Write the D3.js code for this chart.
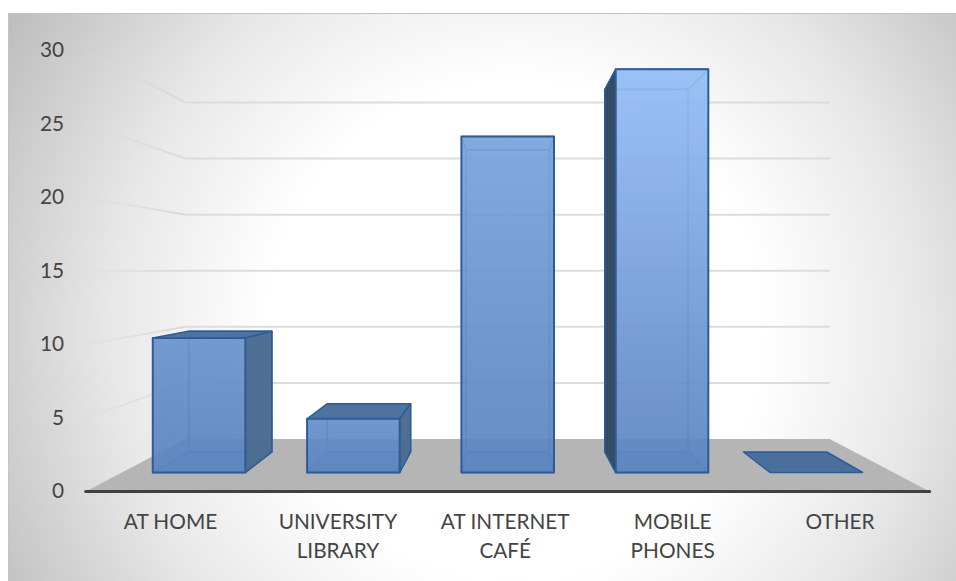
<!DOCTYPE html>
<html><head><meta charset="utf-8">
<script src="https://cdn.jsdelivr.net/npm/d3@7"></script>
<style>html,body{margin:0;padding:0;background:#fff}svg{display:block}text{font-family:Lato,"Open Sans",sans-serif;font-size:20.8px;fill:#444}</style>
</head><body><svg id="c" width="956" height="581"></svg>
<script>
const categories = ["AT HOME","UNIVERSITY LIBRARY","AT INTERNET CAFÉ","MOBILE PHONES","OTHER"];
const categoryLines = [["AT HOME"],["UNIVERSITY","LIBRARY"],["AT INTERNET","CAFÉ"],["MOBILE","PHONES"],["OTHER"]];
const values = [10,4,25,30,0];
const yTicks = [0,5,10,15,20,25,30];

const svg = d3.select("#c");
const defs = svg.append("defs");

// Perspective set-up
const vanishX = 507.7, floorFrontY = 491.5, floorBackY = 439;
const xBand = d3.scaleBand().domain(categories).range([-422,422]).paddingInner(0.4).paddingOuter(0.2);
const y = d3.scaleLinear().domain([0,30]).range([0,441]);
const shrink = d3.scaleLinear().domain([0,1]).range([1,0.763]);
const lift = d3.scaleLinear().domain([0,1]).range([0,floorFrontY-floorBackY]);
const project = (xv,v,t)=>[vanishX+xv*shrink(t), floorFrontY-lift(t)-y(v)*shrink(t)];
const tFront=0.362, tBack=0.752;

// Background
const bg = defs.append("radialGradient").attr("id","bg").attr("gradientUnits","userSpaceOnUse")
  .attr("cx",515).attr("cy",330).attr("r",590);
[[0,"#fff"],[0.42,"#fff"],[0.68,"#e8e8e8"],[1,"#bebebe"]].forEach(s=>bg.append("stop").attr("offset",s[0]).attr("stop-color",s[1]));
svg.append("rect").attr("x",8.5).attr("y",13.5).attr("width",960).attr("height",580).attr("fill","url(#bg)").attr("stroke","#c4c4c4");

// Bar front colour at the top of each bar grows with the bar's height
const topColor = d3.scaleLinear().domain([4,10,25,30]).range(["#6590c9","#6793cb","#78a3db","#93bdf5"]);
categories.forEach((c,i)=>{
  const g=defs.append("linearGradient").attr("id","bf"+i).attr("x1",0).attr("x2",0).attr("y1",0).attr("y2",1);
  g.append("stop").attr("offset",0).attr("stop-color",topColor(values[i]));
  g.append("stop").attr("offset",1).attr("stop-color","#5983bf");
});
const wf = defs.append("linearGradient").attr("id","wf").attr("gradientUnits","userSpaceOnUse").attr("x1",85).attr("x2",186).attr("y1",0).attr("y2",0);
wf.append("stop").attr("offset",0).attr("stop-color","#d9d9d9").attr("stop-opacity",0.15);
wf.append("stop").attr("offset",1).attr("stop-color","#d9d9d9").attr("stop-opacity",1);

// Floor
const poly = pts=>"M"+pts.map(p=>p.join(",")).join("L")+"Z";
const [xMin,xMax]=xBand.range();
svg.append("path").attr("d",poly([project(xMin,0,0),project(xMin,0,1),project(xMax,0,1),project(xMax,0,0)])).attr("fill","#b5b5b5");

// Gridlines
const grid = svg.append("g");
yTicks.filter(d=>d>0).forEach(d=>{
  const a=project(xMin,d,0), b=project(xMin,d,1), c=project(xMax,d,1);
  grid.append("path").attr("d",`M${a}L${b[0]},${b[1]+0.01}`).attr("fill","none").attr("stroke","url(#wf)").attr("stroke-width",2);
  grid.append("line").attr("x1",b[0]).attr("y1",b[1]).attr("x2",c[0]).attr("y2",c[1]).attr("stroke","#dcdcdc").attr("stroke-width",2);
});

// Bars
const bars = svg.append("g");
categories.forEach((c,i)=>{
  const v=values[i], x0=xBand(c), x1=x0+xBand.bandwidth();
  const P=(x,val,t)=>project(x,val,t);
  const fbl=P(x0,0,tFront),fbr=P(x1,0,tFront),ftl=P(x0,v,tFront),ftr=P(x1,v,tFront);
  const bbl=P(x0,0,tBack),bbr=P(x1,0,tBack),btl=P(x0,v,tBack),btr=P(x1,v,tBack);
  const g=bars.append("g");
  const inner="#4478b8", outer="#2d5c98";
  const face=(pts,fill,op,stroke,sw)=>g.append("path").attr("d",poly(pts)).attr("fill",fill).attr("fill-opacity",op).attr("stroke",stroke).attr("stroke-width",sw).attr("stroke-linejoin","round");
  if(v>0){
    face([bbl,bbr,fbr,fbl],"#3f6ea8",0.16,inner,1.5);
    face([btl,btr,bbr,bbl],"none",0,inner,1.5);
    if(btl[1]>ftl[1]) face([btl,btr,ftr,ftl],"none",0,inner,1.5);
  }
  if(btl[1]<ftl[1]) face([btl,btr,ftr,ftl], v>0?"#4f739f":"#4a6f9c",1,outer,1.5);
  if(v>0){
    if(btr[0]>ftr[0]) face([ftr,btr,bbr,fbr],"#4a6b90",0.97,outer,1.5);
    if(btl[0]<ftl[0]) face([ftl,btl,bbl,fbl],"#344b66",1,outer,1.5);
    face([ftl,ftr,fbr,fbl],`url(#bf${i})`,0.92,outer,2);
  }
});

// Axis baseline
const a0=project(xMin,0,0), a1=project(xMax,0,0);
svg.append("line").attr("x1",a0[0]).attr("y1",a0[1]).attr("x2",a1[0]).attr("y2",a1[1]).attr("stroke","#404040").attr("stroke-width",3).attr("stroke-linecap","round");

// Tick labels
const tickY = d3.scaleLinear().domain([0,30]).range([491,50]);
svg.append("g").selectAll("text").data(yTicks).join("text")
  .attr("x",64).attr("y",d=>tickY(d)+7).attr("text-anchor","end").text(d=>d);

// Category labels
const labelX = d3.scalePoint().domain(categories).range([170.5,840]);
categories.forEach((c,i)=>{
  categoryLines[i].forEach((t,j)=>{
    svg.append("text").attr("x",labelX(c)).attr("y",529+j*28.5).attr("text-anchor","middle").text(t);
  });
});
</script></body></html>
